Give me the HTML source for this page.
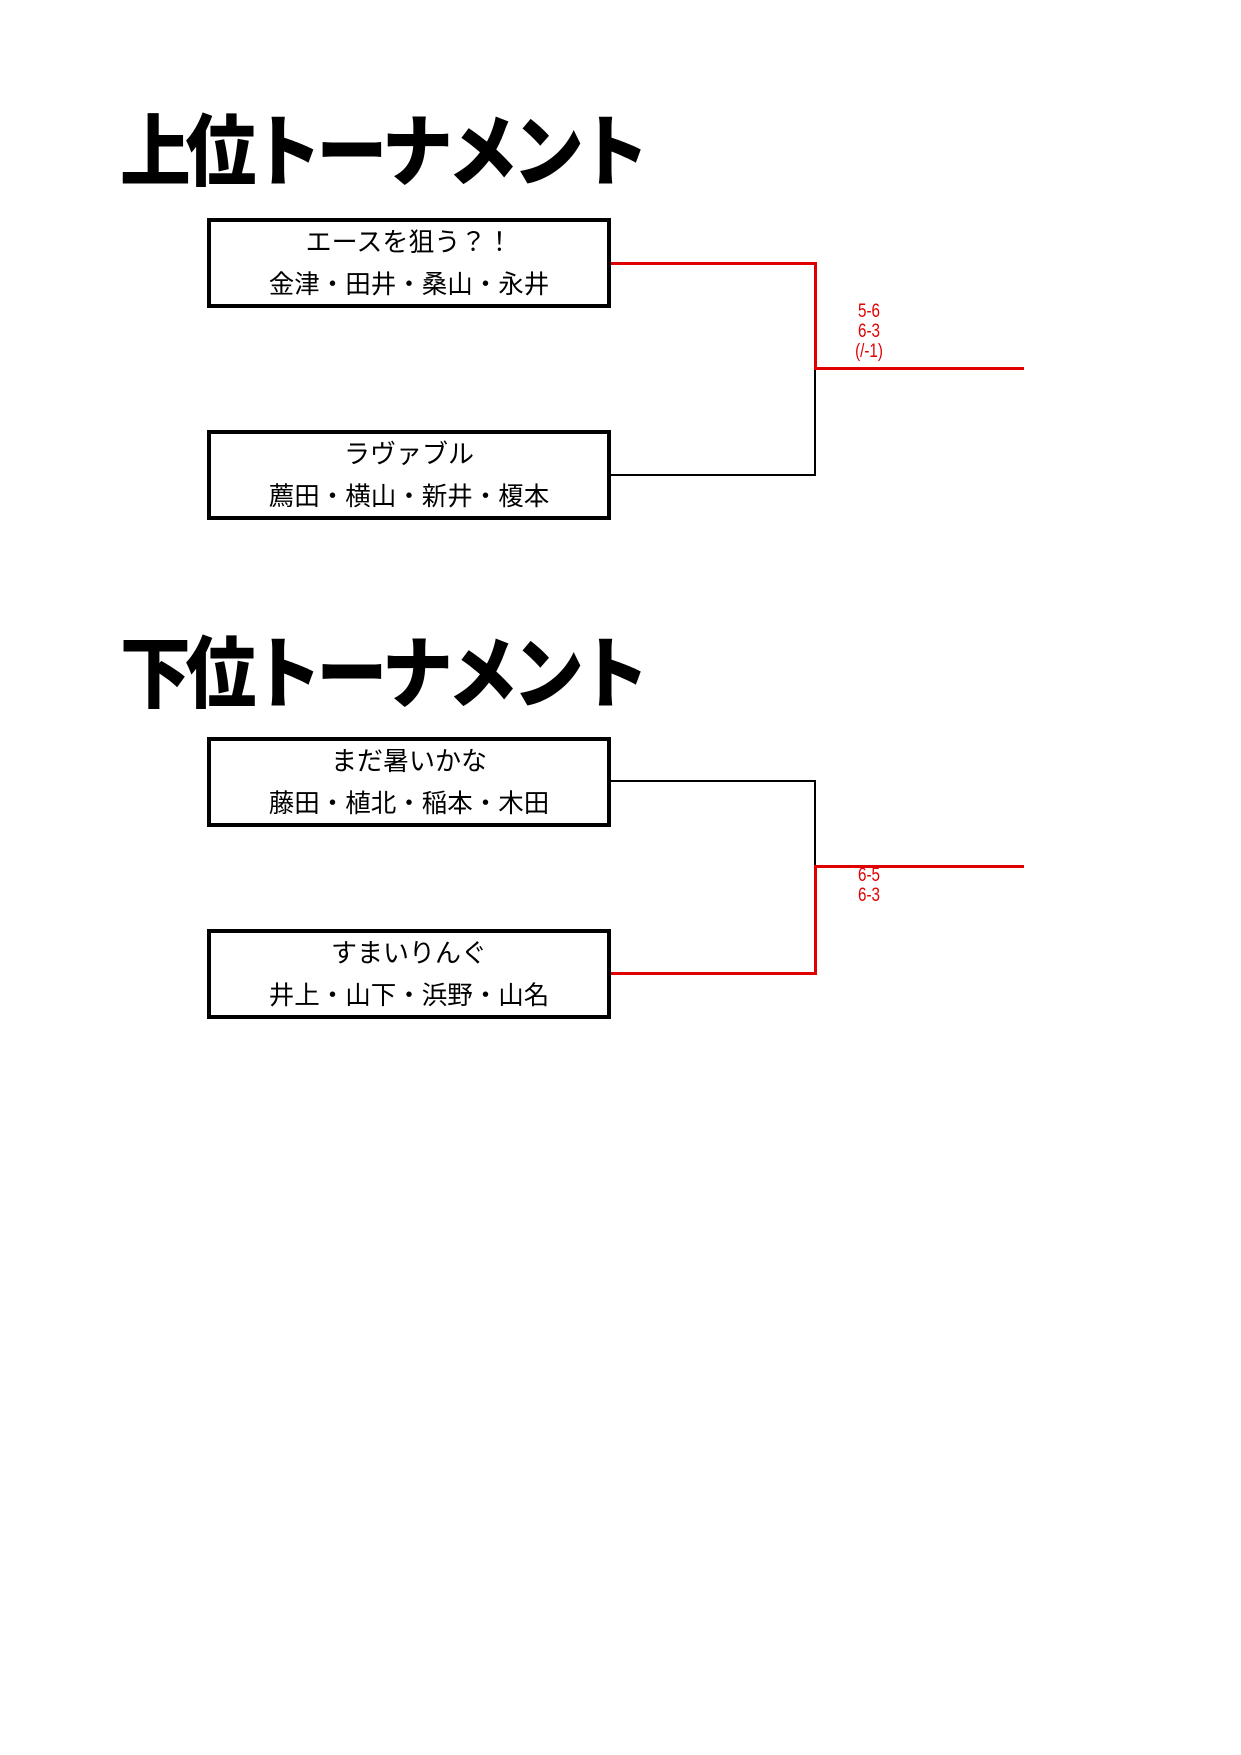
<!DOCTYPE html>
<html><head><meta charset="utf-8"><style>
html,body{margin:0;padding:0;background:#fff;}
body{width:1241px;height:1755px;position:relative;overflow:hidden;font-family:"Liberation Sans","Noto Sans CJK JP",sans-serif;}
.title{position:absolute;left:120px;font-size:80px;font-weight:900;line-height:1;letter-spacing:-6px;white-space:nowrap;transform:scale(0.885,0.98);transform-origin:left top;}
.box{position:absolute;left:207px;width:396px;height:82px;border:4px solid #000;}
.box div{position:absolute;left:0;right:0;text-align:center;font-size:26px;line-height:30px;white-space:nowrap;}
.box div.n{font-size:25.5px;}
.l{position:absolute;}
.r{background:#e00000;}
.k{background:#000;}
.s{position:absolute;color:#e00000;font-size:19px;line-height:20px;text-align:center;width:60px;left:839px;transform:scaleX(0.8);}
</style></head><body>
<div class="title" style="top:114px;">上位トーナメント</div>
<div class="title" style="top:636px;">下位トーナメント</div>

<div class="box" style="top:218px;"><div style="top:5px;">エースを狙う？！</div><div class="n" style="top:48px;">金津・田井・桑山・永井</div></div>
<div class="box" style="top:430px;"><div style="top:5px;">ラヴァブル</div><div class="n" style="top:48px;">薦田・横山・新井・榎本</div></div>
<div class="box" style="top:737px;"><div style="top:5px;">まだ暑いかな</div><div class="n" style="top:48px;">藤田・植北・稲本・木田</div></div>
<div class="box" style="top:929px;"><div style="top:5px;">すまいりんぐ</div><div class="n" style="top:48px;">井上・山下・浜野・山名</div></div>

<!-- upper -->
<div class="l r" style="left:611px;top:262px;width:206px;height:3px;"></div>
<div class="l r" style="left:814px;top:262px;width:3px;height:108px;"></div>
<div class="l r" style="left:814px;top:367px;width:210px;height:3px;"></div>
<div class="l k" style="left:611px;top:474px;width:205px;height:1.5px;"></div>
<div class="l k" style="left:814px;top:370px;width:1.5px;height:105px;"></div>
<div class="s" style="top:302px;">5-6<br>6-3<br>(/-1)</div>

<!-- lower -->
<div class="l k" style="left:611px;top:780px;width:205px;height:1.5px;"></div>
<div class="l k" style="left:814px;top:780px;width:1.5px;height:87px;"></div>
<div class="l r" style="left:814px;top:865px;width:210px;height:3px;"></div>
<div class="l r" style="left:814px;top:865px;width:3px;height:110px;"></div>
<div class="l r" style="left:611px;top:972px;width:206px;height:3px;"></div>
<div class="s" style="top:866px;">6-5<br>6-3</div>
</body></html>
